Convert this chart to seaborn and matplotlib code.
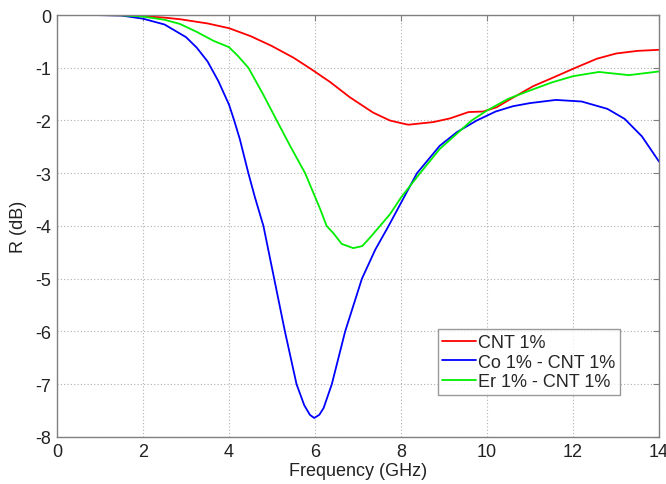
import matplotlib
matplotlib.use("Agg")
import matplotlib.pyplot as plt
import numpy as np
import pandas as pd
import seaborn as sns

# CNT 1%
freq_cnt = [0.85, 1.5, 2, 2.5, 2.86, 3.5, 4, 4.5, 5.0, 5.5, 5.88, 6.35, 6.81,
            7.35, 7.74, 8.0, 8.17, 8.75, 9.14, 9.57, 9.91, 10.22, 10.49, 11.07,
            11.47, 12, 12.55, 13, 13.5, 14]
r_cnt = [0, -0.005, -0.02, -0.05, -0.08, -0.16, -0.25, -0.4, -0.59, -0.81, -1.01,
         -1.27, -1.56, -1.85, -2.0, -2.05, -2.08, -2.03, -1.96, -1.84, -1.83,
         -1.75, -1.62, -1.35, -1.21, -1.02, -0.83, -0.73, -0.68, -0.66]

# Co 1% - CNT 1%
freq_co = [0.85, 1.5, 2, 2.5, 3, 3.25, 3.5, 3.75, 4, 4.12, 4.25, 4.45, 4.6, 4.8,
           5.05, 5.3, 5.57, 5.75, 5.88, 5.98, 6.1, 6.2, 6.39, 6.7, 7.09, 7.4,
           7.71, 8, 8.37, 8.9, 9.3, 9.76, 10.2, 10.6, 11, 11.6, 12.2, 12.8, 13.2,
           13.6, 14]
r_co = [0, -0.01, -0.07, -0.18, -0.42, -0.62, -0.88, -1.25, -1.7, -2.0, -2.35,
        -3.0, -3.45, -4.0, -5.0, -6.0, -7.0, -7.4, -7.58, -7.64, -7.58, -7.45,
        -7.0, -6.0, -5.0, -4.45, -4.0, -3.56, -3.0, -2.48, -2.22, -2.0, -1.83,
        -1.73, -1.67, -1.61, -1.64, -1.78, -1.97, -2.3, -2.78]

# Er 1% - CNT 1%
freq_er = [1.0, 1.5, 2, 2.5, 2.86, 3.25, 3.64, 4, 4.2, 4.45, 4.79, 5.11, 5.42,
           5.77, 6.12, 6.27, 6.43, 6.62, 6.89, 7.1, 7.3, 7.51, 7.74, 8, 8.44,
           8.9, 9.64, 10, 10.49, 11, 11.5, 12, 12.6, 13.3, 14]
r_er = [0, -0.005, -0.03, -0.09, -0.17, -0.32, -0.49, -0.61, -0.77, -1.0, -1.5,
        -2.0, -2.48, -3.0, -3.68, -4.0, -4.14, -4.34, -4.42, -4.38, -4.2, -4.0,
        -3.78, -3.46, -3.0, -2.54, -2.0, -1.81, -1.59, -1.43, -1.28, -1.16, -1.08,
        -1.14, -1.07]

labels = ["CNT 1%", "Co 1% - CNT 1%", "Er 1% - CNT 1%"]
colours = ["#ff0000", "#0000ff", "#00ee00"]

frames = []
for lab, fx, vals in zip(labels, [freq_cnt, freq_co, freq_er], [r_cnt, r_co, r_er]):
    frames.append(pd.DataFrame({"Frequency": fx, "R": vals, "Sample": lab}))
data = pd.concat(frames, ignore_index=True)

sns.set_style("white")
plt.rcParams['font.family'] = ['Liberation Sans', 'DejaVu Sans']
plt.rcParams['axes.unicode_minus'] = False

fig = plt.figure(figsize=(6.66, 4.85), dpi=100)
ax = fig.add_axes([0.0856, 0.097, 0.904, 0.870])

sns.lineplot(data=data, x="Frequency", y="R", hue="Sample",
             palette=dict(zip(labels, colours)), estimator=None, sort=False,
             linewidth=1.3, ax=ax)

ax.set_xlim(0, 14)
ax.set_ylim(-8, 0)
ax.set_xticks(np.arange(0, 15, 2))
ax.set_yticks(np.arange(-8, 1, 1))
ax.grid(True, linestyle=(0, (1, 2)), color='#b0b0b0', linewidth=0.8)

for side in ax.spines.values():
    side.set_visible(True)
    side.set_color('#808080')
    side.set_linewidth(1.0)

ax.tick_params(direction='in', length=4, color='#808080', labelsize=13,
               labelcolor='#222222', top=True, right=True, pad=4)
ax.set_xlabel("Frequency (GHz)", fontsize=13, color='#222222', labelpad=2)
ax.set_ylabel("R (dB)", fontsize=13, color='#222222', labelpad=6)

handles, labs = ax.get_legend_handles_labels()
leg = ax.legend(handles, labs, loc='lower right', bbox_to_anchor=(0.935, 0.10),
                borderaxespad=0, fontsize=13, frameon=True, fancybox=False,
                handlelength=1.9, handletextpad=0.1, borderpad=0.25,
                labelspacing=0.15, edgecolor='#808080')
leg.get_frame().set_linewidth(1.0)

fig.savefig("out.png", dpi=100)
